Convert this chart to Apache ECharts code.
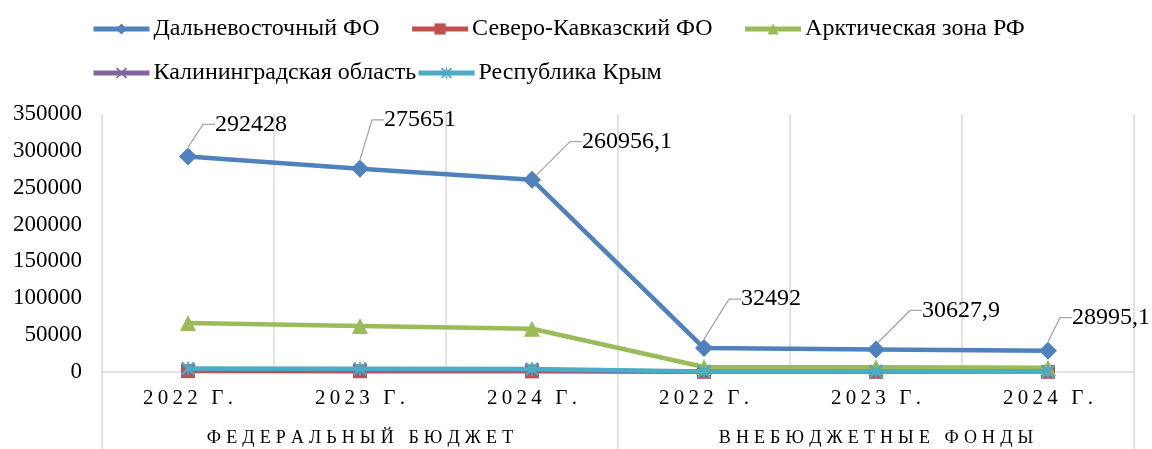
<!DOCTYPE html>
<html><head><meta charset="utf-8">
<script src="https://cdn.jsdelivr.net/npm/echarts@6/dist/echarts.min.js"></script>
<style>html,body{margin:0;padding:0;background:#fff}#c{width:1152px;height:449px}</style>
</head><body><div id="c"></div>
<script>
const years = ['2022 Г.', '2023 Г.', '2024 Г.', '2022 Г.', '2023 Г.', '2024 Г.'];
const groups = ['ФЕДЕРАЛЬНЫЙ БЮДЖЕТ', 'ВНЕБЮДЖЕТНЫЕ ФОНДЫ'];
const seriesNames = ['Дальневосточный ФО', 'Северо-Кавказский ФО', 'Арктическая зона РФ', 'Калининградская область', 'Республика Крым'];
const farEast = [292428, 275651, 260956.1, 32492, 30627.9, 28995.1];
const northCaucasus = [1200, 1000, 900, 200, 200, 200];
const arctic = [66400, 62400, 58600, 6800, 6300, 5800];
const kaliningrad = [3000, 2800, 2700, 500, 500, 500];
const crimea = [4600, 4300, 4100, 700, 600, 500];
const yTicks = [0, 50000, 100000, 150000, 200000, 250000, 300000, 350000];

// label placement (style only)
const labelShift = [[27, -32], [24, -49], [50, -38], [37, -49], [46, -39], [24, -33]];

const FONT = '"Liberation Serif", "Times New Roman", serif';
const spaced = (s, sep) => s.split('').join(sep);
const colors = ['#4f81bd', '#c0504d', '#9bbb59', '#8064a2', '#4bacc6'];
const xPath = 'path://M0,1.2 L1.2,0 L10,8.8 L8.8,10 Z M8.8,0 L10,1.2 L1.2,10 L0,8.8 Z';
const starPath = 'path://M0,1.2 L1.2,0 L10,8.8 L8.8,10 Z M8.8,0 L10,1.2 L1.2,10 L0,8.8 Z M4.4,0 L5.6,0 L5.6,10 L4.4,10 Z';
const symbols = ['diamond', 'rect', 'triangle', xPath, starPath];
const symbolSizes = [18, 14, 16, 14, 14];
const datas = [farEast, northCaucasus, arctic, kaliningrad, crimea];

const chart = echarts.init(document.getElementById('c'));
const series = datas.map((d, i) => {
  const s = {
    name: seriesNames[i], type: 'line', data: d, xAxisIndex: 0,
    symbol: symbols[i], symbolSize: symbolSizes[i], showAllSymbol: true,
    lineStyle: { width: 4.5, color: colors[i] },
    itemStyle: { color: colors[i] },
    z: i === 0 ? 10 : 2 + i,
    animation: false
  };
  if (i === 0) {
    s.label = {
      show: true, position: 'right', distance: 5,
      fontFamily: FONT, fontSize: 24, color: '#000',
      formatter: p => String(p.value).replace('.', ',')
    };
    s.labelLine = { show: true, length2: 12, lineStyle: { color: '#a6a6a6', width: 1.3 } };
    s.labelLayout = p => ({ dx: labelShift[p.dataIndex][0] - 14, dy: labelShift[p.dataIndex][1] });
  }
  return s;
});

const legendCommon = { itemWidth: 56, itemHeight: 14,
  lineStyle: { width: 5 },
  textStyle: { fontFamily: FONT, fontSize: 24, color: '#000', padding: [0, 0, 0, -1] } };

chart.setOption({
  animation: false,
  color: colors,
  legend: [
    Object.assign({ data: seriesNames.slice(0, 3), left: 86, top: 12, itemGap: 30 }, legendCommon),
    Object.assign({ data: seriesNames.slice(3), left: 86, top: 56, itemGap: 0 }, legendCommon)
  ],
  grid: { left: 102, right: 18, top: 114, bottom: 77, containLabel: false },
  xAxis: [
    { type: 'category', data: years, boundaryGap: true, position: 'bottom',
      axisLine: { show: true, lineStyle: { color: '#d9d9d9', width: 1.5 } },
      axisTick: { show: false },
      axisLabel: { fontFamily: FONT, fontSize: 21, color: '#000', margin: 16,
        formatter: v => spaced(v, '\u2009') },
      splitLine: { show: true, showMinLine: true, showMaxLine: true, lineStyle: { color: '#d9d9d9', width: 1.5 } } },
    { type: 'category', data: groups, boundaryGap: true, position: 'bottom',
      axisLine: { show: false },
      axisTick: { show: true, length: 80, lineStyle: { color: '#d9d9d9', width: 1.5 } },
      axisLabel: { fontFamily: FONT, fontSize: 18, color: '#000', margin: 57,
        formatter: v => spaced(v, '\u2009\u200a') },
      splitLine: { show: false } }
  ],
  yAxis: {
    type: 'value', min: yTicks[0], max: yTicks[yTicks.length - 1], interval: yTicks[1] - yTicks[0],
    axisLine: { show: false }, axisTick: { show: false }, splitLine: { show: false },
    axisLabel: { fontFamily: FONT, fontSize: 23, color: '#000', margin: 20, formatter: v => String(v) }
  },
  series: series
});
</script></body></html>
